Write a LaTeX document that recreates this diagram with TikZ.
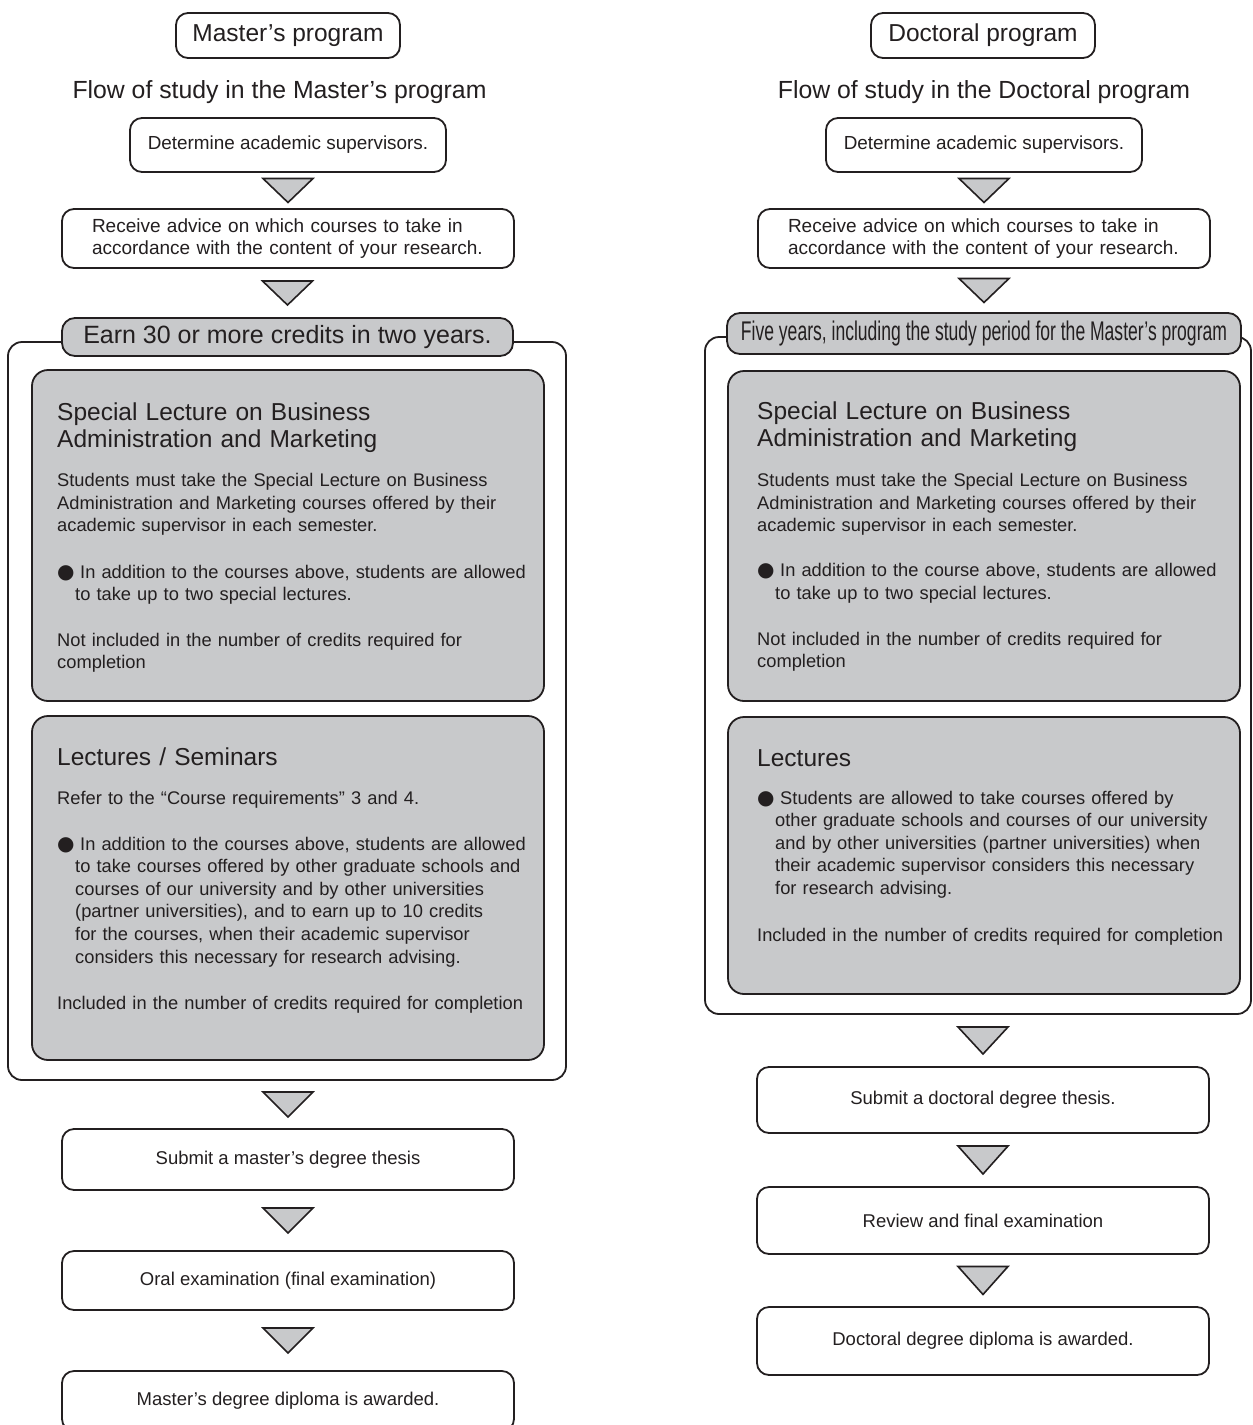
\documentclass[tikz,border=0pt]{standalone}
\usepackage{fontspec}
\setmainfont{Liberation Sans}
\newfontfamily\narrowfont{Liberation Sans}[FakeStretch=0.65]
\newfontfamily\bulfont{DejaVu Sans}
\usetikzlibrary{calc}
\definecolor{ink}{RGB}{35,31,32}
\definecolor{panel}{RGB}{200,201,203}
\newcommand\fsHead{\fontsize{24.5}{27.7}\selectfont}
\newcommand\fsBody{\fontsize{18.3}{22.6}\selectfont}
\newcommand\fsBox{\fontsize{18.5}{22}\selectfont}
\newcommand\mybul{\makebox[23pt][l]{\bulfont\fontsize{20}{20}\selectfont ●}}
\newcommand\flowtri[3]{%
  \coordinate (trimid) at ($(#1.south)!.5!(#2.north)$);
  \draw[tri] ($(#2.north |- trimid)+(-25,-#3/2)$) -- ++(50,0) -- ++(-25,#3) -- cycle;}
\begin{document}
\begin{tikzpicture}[x=1pt,y=-1pt,
  every node/.style={text=ink},
  box/.style={draw=ink, line width=1.8pt, rounded corners=12pt, fill=white, inner sep=0pt, align=center},
  gbox/.style={draw=ink, line width=1.8pt, rounded corners=16pt, fill=panel, inner sep=0pt},
  cont/.style={draw=ink, line width=1.8pt, rounded corners=14pt, inner sep=0pt},
  pill/.style={draw=ink, line width=1.8pt, rounded corners=13pt, fill=panel, inner sep=0pt},
  tri/.style={draw=ink, line width=1.6pt, fill=panel, line join=miter},
  para/.style={anchor=base west, inner sep=0pt, align=left, text width=#1}]
\useasboundingbox (0,0) rectangle (1253,1425);
\clip (0,0) rectangle (1253,1425);
\fill[white] (0,0) rectangle (1253,1425);

% ---------------- Master's column ----------------
\node[cont, minimum width=558pt, minimum height=738pt] (mCont) at (287,711) {};
\node[pill, minimum width=451pt, minimum height=38pt, font=\fontsize{25}{25}\selectfont] (mPill) at (287.5,337) {Earn 30 or more credits in two years.};
\node[box, minimum width=224pt, minimum height=45pt, font=\fsHead] (mProg) at (288,35.5) {Master’s program};
\node[anchor=base, inner sep=0pt, font=\fontsize{24.8}{26}\selectfont] (mFlow) at (279.5,98) {Flow of study in the Master’s program};
\node[box, minimum width=316pt, minimum height=54pt, font=\fontsize{18.9}{22}\selectfont] (mDet) at (288,145) {Determine academic supervisors.};
\node[box, minimum width=452pt, minimum height=59pt, text width=392pt, align=left, font=\fontsize{19}{22.7}\selectfont] (mRecv) at (288,238.5) {Receive advice on which courses to take in\\accordance with the content of your research.};

\node[gbox, minimum width=512pt, minimum height=331pt] (mG1) at (288,535.5) {};
\node[gbox, minimum width=512pt, minimum height=344pt] (mG2) at (288,888) {};

\node[para=480pt, font=\fsHead] (mG1a) at (57,420) {Special Lecture on Business\\Administration and Marketing};
\node[para=480pt, font=\fsBody] (mG1b) at (57,486.7) {Students must take the Special Lecture on Business\\Administration and Marketing courses offered by their\\academic supervisor in each semester.};
\node[para=480pt, font=\fsBody] (mG1c) at (57,578) {\mybul In addition to the courses above, students are allowed\\\hspace*{18pt}to take up to two special lectures.};
\node[para=480pt, font=\fsBody] (mG1d) at (57,646) {Not included in the number of credits required for\\completion};

\node[para=480pt, font=\fsHead] (mG2a) at (57,765.7) {Lectures / Seminars};
\node[para=480pt, font=\fsBody] (mG2b) at (57,804) {Refer to the “Course requirements” 3 and 4.};
\node[para=480pt, font=\fsBody] (mG2c) at (57,850) {\mybul In addition to the courses above, students are allowed\\\hspace*{18pt}to take courses offered by other graduate schools and\\\hspace*{18pt}courses of our university and by other universities\\\hspace*{18pt}(partner universities), and to earn up to 10 credits\\\hspace*{18pt}for the courses, when their academic supervisor\\\hspace*{18pt}considers this necessary for research advising.};
\node[para=480pt, font=\fsBody] (mG2d) at (57,1009) {Included in the number of credits required for completion};

\node[box, minimum width=452pt, minimum height=61pt, font=\fsBox] (mSub) at (288,1159.5) {Submit a master’s degree thesis};
\node[box, minimum width=452pt, minimum height=59pt, font=\fsBox] (mOral) at (288,1280.5) {Oral examination (final examination)};
\node[box, minimum width=452pt, minimum height=60pt, font=\fsBox] (mDip) at (288,1401) {Master’s degree diploma is awarded.};

\flowtri{mDet}{mRecv}{24}
\flowtri{mRecv}{mPill}{24}
\flowtri{mCont}{mSub}{25}
\flowtri{mSub}{mOral}{25}
\flowtri{mOral}{mDip}{25}

% ---------------- Doctoral column ----------------
\node[cont, minimum width=546pt, minimum height=677pt] (dCont) at (978,675.5) {};
\node[pill, minimum width=514pt, minimum height=41pt, font=\narrowfont\fontsize{27}{27}\selectfont] (dPill) at (984,333.5) {Five years, including the study period for the Master’s program};
\node[box, minimum width=224pt, minimum height=45pt, font=\fsHead] (dProg) at (983,35.5) {Doctoral program};
\node[anchor=base, inner sep=0pt, font=\fontsize{24.8}{26}\selectfont] (dFlow) at (984,98) {Flow of study in the Doctoral program};
\node[box, minimum width=316pt, minimum height=54pt, font=\fontsize{18.9}{22}\selectfont] (dDet) at (984,145) {Determine academic supervisors.};
\node[box, minimum width=452pt, minimum height=59pt, text width=392pt, align=left, font=\fontsize{19}{22.7}\selectfont] (dRecv) at (984,238.5) {Receive advice on which courses to take in\\accordance with the content of your research.};

\node[gbox, minimum width=512pt, minimum height=330pt] (dG1) at (984,536) {};
\node[gbox, minimum width=512pt, minimum height=277pt] (dG2) at (984,855.5) {};

\node[para=480pt, font=\fsHead] (dG1a) at (757,419) {Special Lecture on Business\\Administration and Marketing};
\node[para=480pt, font=\fsBody] (dG1b) at (757,486.7) {Students must take the Special Lecture on Business\\Administration and Marketing courses offered by their\\academic supervisor in each semester.};
\node[para=480pt, font=\fsBody] (dG1c) at (757,576.7) {\mybul In addition to the course above, students are allowed\\\hspace*{18pt}to take up to two special lectures.};
\node[para=480pt, font=\fsBody] (dG1d) at (757,645) {Not included in the number of credits required for\\completion};

\node[para=480pt, font=\fsHead] (dG2a) at (757,766) {Lectures};
\node[para=480pt, font=\fsBody] (dG2c) at (757,804) {\mybul Students are allowed to take courses offered by\\\hspace*{18pt}other graduate schools and courses of our university\\\hspace*{18pt}and by other universities (partner universities) when\\\hspace*{18pt}their academic supervisor considers this necessary\\\hspace*{18pt}for research advising.};
\node[para=480pt, font=\fsBody] (dG2d) at (757,941) {Included in the number of credits required for completion};

\node[box, minimum width=452pt, minimum height=66pt, font=\fsBox] (dSub) at (983,1100) {Submit a doctoral degree thesis.};
\node[box, minimum width=452pt, minimum height=67pt, font=\fsBox] (dRev) at (983,1220.5) {Review and final examination};
\node[box, minimum width=452pt, minimum height=68pt, font=\fsBox] (dDip) at (983,1341) {Doctoral degree diploma is awarded.};

\flowtri{dDet}{dRecv}{24}
\flowtri{dRecv}{dPill}{24}
\flowtri{dCont}{dSub}{27}
\flowtri{dSub}{dRev}{28}
\flowtri{dRev}{dDip}{28}
\end{tikzpicture}
\end{document}
